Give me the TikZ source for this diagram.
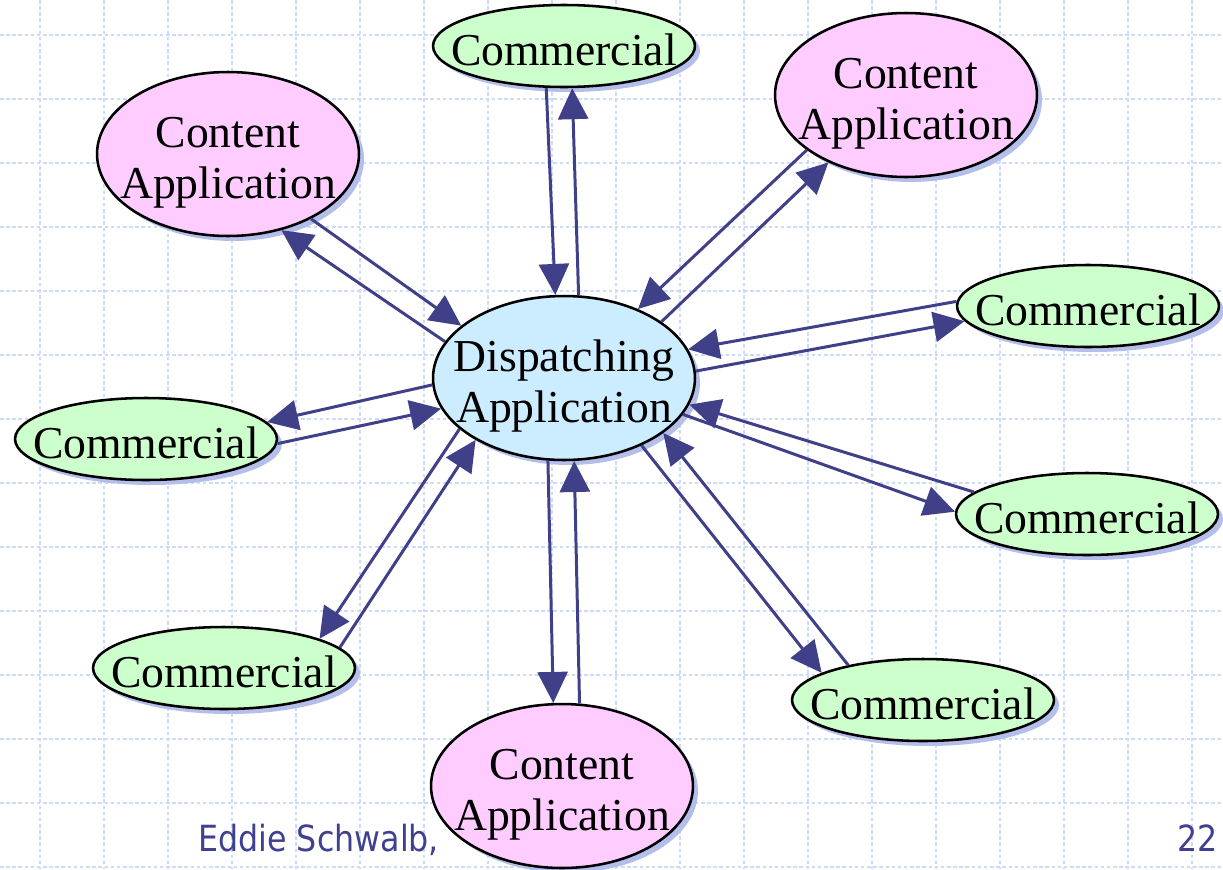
\documentclass[tikz,border=0pt]{standalone}
\usepackage{fontspec}
\setmainfont{Liberation Serif}
\newfontfamily\footfont[FakeStretch=0.88]{DejaVu Sans}
\usetikzlibrary{shapes.geometric,arrows.meta,shadows}
\definecolor{gridc}{HTML}{CCDAFB}
\definecolor{arrc}{HTML}{404089}
\definecolor{greenf}{HTML}{CCFFCC}
\definecolor{pinkf}{HTML}{FFCCFF}
\definecolor{bluef}{HTML}{CCECFF}
\definecolor{shadc}{HTML}{B4BEEA}
\definecolor{footc}{HTML}{404090}
\newcommand{\twol}[2]{\makebox[0pt]{\raisebox{-0.18cm}[\height][\depth]{\begin{tabular}{@{}c@{}}#1\\#2\end{tabular}}}}
\newcommand{\onel}[1]{\makebox[0pt]{\raisebox{-0.08cm}[\height][\depth]{#1}}}
\begin{document}
\begin{tikzpicture}[x=0.02cm,y=-0.02cm,
  gridline/.style={draw=gridc, line width=0.9pt, dash pattern=on 2pt off 1.5pt},
  elbase/.style={ellipse, draw=black, line width=1.45pt, inner sep=0pt,
    minimum width=5.24cm, font=\fontsize{26}{28.5}\selectfont,
    drop shadow={shadow xshift=0.1cm, shadow yshift=-0.1cm, fill=shadc, opacity=1}},
  comm/.style={elbase, fill=greenf, minimum height=1.64cm},
  content/.style={elbase, fill=pinkf, minimum height=3.28cm},
  dispatch/.style={elbase, fill=bluef, minimum height=3.28cm},
  arr/.style={draw=arrc, line width=1.7pt, -{Triangle[length=0.62cm,width=0.6cm]}},
  foottext/.style={inner sep=0pt, text=footc, font=\footfont\fontsize{20.5}{24}\selectfont}
]
\useasboundingbox (0,0) rectangle (1223,869);
\fill[white] (0,0) rectangle (1223,869);
\foreach \x in {40,104,...,1200} \draw[gridline] (\x,0) -- (\x,869);
\foreach \y in {35,99,...,870} \draw[gridline] (0,\y) -- (1223,\y);

\node[anchor=base west, foottext] (foot) at (198,851) {Eddie Schwalb,};
\node[anchor=base east, foottext] (page) at (1218,851) {22};

\node[dispatch] (disp) at (564,378) {\twol{Dispatching}{Application}};
\node[comm] (comT) at (564,46) {\onel{Commercial}};
\node[content] (conTR) at (906,95) {\twol{Content}{Application}};
\node[content] (conTL) at (228,154) {\twol{Content}{Application}};
\node[comm] (comR1) at (1088,306) {\onel{Commercial}};
\node[comm] (comL) at (146,439) {\onel{Commercial}};
\node[comm] (comR2) at (1087,514) {\onel{Commercial}};
\node[comm] (comBL) at (224,668) {\onel{Commercial}};
\node[comm] (comBR) at (923,700) {\onel{Commercial}};
\node[content] (conB) at (562,786) {\twol{Content}{Application}};

\draw[arr] (comT.247.3) -- (disp.96.3);
\draw[arr] (disp.80.2) -- (comT.281.1);
\draw[arr] (conTR.209.3) -- (disp.43.3);
\draw[arr] (disp.30.8) -- (conTR.221.7);
\draw[arr] (conTL.322.2) -- (disp.153.7);
\draw[arr] (disp.163.6) -- (conTL.305.3);
\draw[arr] (comR1.178.2) -- (disp.13.2);
\draw[arr] (disp.3.1) -- (comR1.187.6);
\draw[arr] (disp.183.9) -- (comL.8.0);
\draw[arr] (comL.358.3) -- (disp.194.4);
\draw[arr] (comR2.169.8) -- (disp.348.5);
\draw[arr] (disp.343.6) -- (comR2.179.6);
\draw[arr] (disp.319.3) -- (comBR.165.4);
\draw[arr] (comBR.155.7) -- (disp.331.4);
\draw[arr] (disp.206.6) -- (comBL.17.5);
\draw[arr] (comBL.10.7) -- (disp.215.7);
\draw[arr] (disp.259.6) -- (conB.96.3);
\draw[arr] (conB.78.8) -- (disp.277.6);
\end{tikzpicture}
\end{document}
